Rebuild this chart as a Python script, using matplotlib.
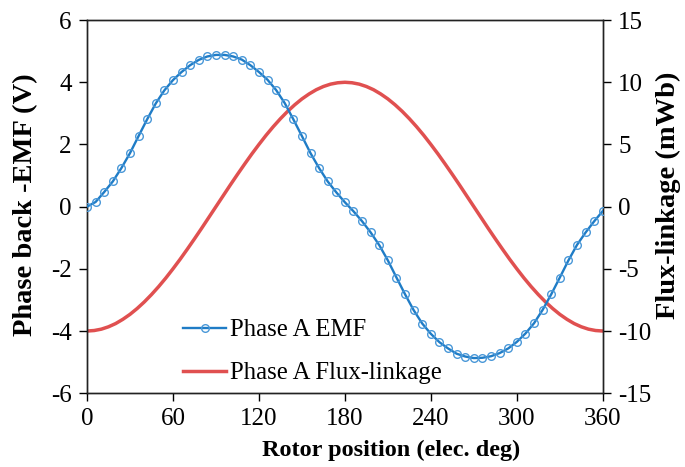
import numpy as np
import matplotlib
matplotlib.use("Agg")
from matplotlib import pyplot as plt

plt.rcParams['font.family'] = ['Liberation Serif', 'DejaVu Serif']
plt.rcParams['axes.unicode_minus'] = False

# phase A back-EMF, sampled every 6 elec. deg
emf_deg = list(range(0, 361, 6))
emf_v = [0.00, 0.15, 0.47, 0.81, 1.24, 1.72, 2.27, 2.81, 3.32, 3.74,
         4.07, 4.33, 4.55, 4.72, 4.83, 4.88, 4.88, 4.83, 4.73, 4.55,
         4.33, 4.08, 3.75, 3.33, 2.81, 2.27, 1.72, 1.24, 0.81, 0.46,
         0.14, -0.15, -0.47, -0.83, -1.24, -1.73, -2.28, -2.82, -3.33, -3.76,
         -4.09, -4.36, -4.56, -4.73, -4.82, -4.87, -4.86, -4.81, -4.71, -4.56,
         -4.35, -4.08, -3.75, -3.32, -2.82, -2.28, -1.73, -1.23, -0.83, -0.47,
         -0.14]

# phase A flux-linkage, every 5 elec. deg
flux_deg = list(range(0, 361, 5))
flux_mwb = [-10.0, -9.96, -9.85, -9.66, -9.40, -9.06, -8.66, -8.19, -7.66, -7.07,
            -6.43, -5.74, -5.0, -4.23, -3.42, -2.59, -1.74, -0.87, 0.0,
            0.87, 1.74, 2.59, 3.42, 4.23, 5.0, 5.74, 6.43, 7.07, 7.66,
            8.19, 8.66, 9.06, 9.40, 9.66, 9.85, 9.96, 10.0,
            9.96, 9.85, 9.66, 9.40, 9.06, 8.66, 8.19, 7.66, 7.07,
            6.43, 5.74, 5.0, 4.23, 3.42, 2.59, 1.74, 0.87, 0.0,
            -0.87, -1.74, -2.59, -3.42, -4.23, -5.0, -5.74, -6.43, -7.07, -7.66,
            -8.19, -8.66, -9.06, -9.40, -9.66, -9.85, -9.96, -10.0]

x_ticks = [0, 60, 120, 180, 240, 300, 360]
left_ticks = [-6, -4, -2, 0, 2, 4, 6]
right_ticks = [-15, -10, -5, 0, 5, 10, 15]

blue = '#1f7cc6'
red = '#e05050'

fig = plt.figure(figsize=(6.85, 4.67), dpi=100)
ax = fig.add_axes([0.127, 0.158, 0.753, 0.799])
ax2 = ax.twinx()

l1, = ax.plot(emf_deg, emf_v, color=blue, lw=1.7, marker='o', ms=5.5,
              mfc='none', mec='#4a98d8', mew=1.0, zorder=3)
l2, = ax2.plot(flux_deg, flux_mwb, color=red, lw=2.5, zorder=2)
ax.set_zorder(ax2.get_zorder() + 1)
ax.patch.set_visible(False)

ax.set_xlim(0, 360)
ax.set_ylim(-6, 6)
ax2.set_ylim(-15, 15)
ax.set_xticks(x_ticks)
ax.set_yticks(left_ticks)
ax2.set_yticks(right_ticks)

for a in (ax, ax2):
    a.tick_params(direction='out', length=6, width=1.0, labelsize=18, pad=5)
    for s in a.spines.values():
        s.set_linewidth(1.0)
        s.set_color('#222222')

ax.set_xlabel('Rotor position (elec. deg)', fontsize=17.5, fontweight='bold')
ax.xaxis.set_label_coords(0.59, -0.125)
ax.set_ylabel('Phase back -EMF (V)', fontsize=20.5, fontweight='bold')
ax.yaxis.set_label_coords(-0.095, 0.505)
ax2.set_ylabel('Flux-linkage (mWb)', fontsize=20.5, fontweight='bold')
ax2.yaxis.set_label_coords(1.102, 0.53)

ax.legend([l1, l2], ['Phase A EMF', 'Phase A Flux-linkage'], loc='lower left',
          bbox_to_anchor=(0.186, 0.024), frameon=False, fontsize=17.8,
          borderpad=0, borderaxespad=0,
          handlelength=1.75, handletextpad=0.15, labelspacing=0.83)

fig.savefig('out.png', dpi=100)
